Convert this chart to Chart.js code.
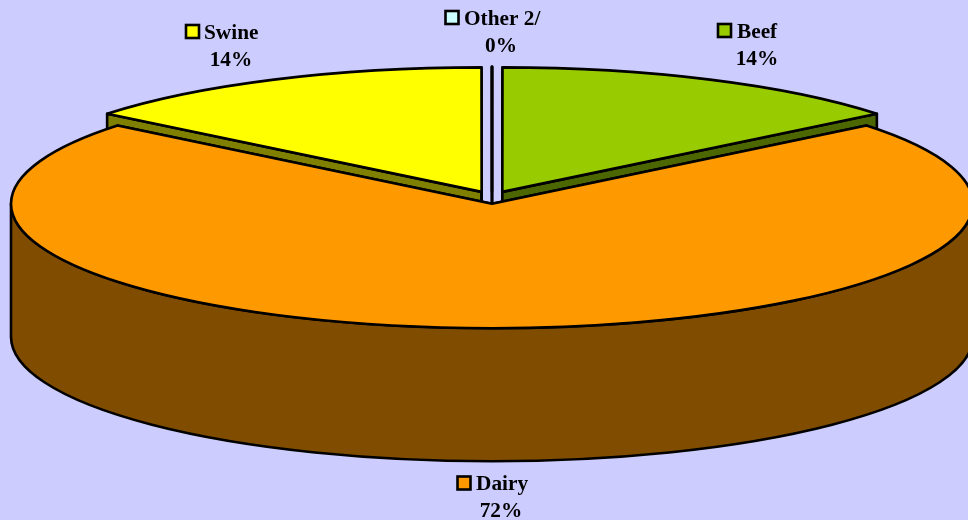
<!DOCTYPE html>
<html>
<head>
<meta charset="utf-8">
<title>Share by sector</title>
<script src="https://cdn.jsdelivr.net/npm/chart.js@4"></script>
<style>
    html, body { margin: 0; padding: 0; background: #CCCCFF; }
    canvas { display: block; }
</style>
</head>
<body>
<canvas id="pieChart" width="968" height="520"></canvas>
<script>
// slices run clockwise, Dairy is last so it gets drawn over the other side walls
var labels = ['Swine', 'Other 2/', 'Beef', 'Dairy'];
var shares = [14.2, 0.01, 14.2, 71.6];
var topColors = ['#FFFF00', '#CCFFFF', '#99CC00', '#FF9900'];
var wallColors = ['#808000', '#668080', '#4C6600', '#804C00'];

var SQUASH = 0.2588;
var DEPTH = 133;
var EXPLODE = 24;
var RADIUS = 481;
var LINE = 2.6;

// where the label of each slice goes: key box corner, text start, centre of the % line
var labelSpots = [
    { keyX: 185, keyY: 25, textX: 204, baseY: 39, pctX: 231 },
    { keyX: 444.5, keyY: 11, textX: 464, baseY: 25, pctX: 501 },
    { keyX: 717, keyY: 24, textX: 737, baseY: 38, pctX: 757 },
    { keyX: 456.5, keyY: 476.5, textX: 476, baseY: 490, pctX: 501 }
];

var total = shares.reduce(function(a, b) { return a + b; }, 0);
var startRotation = -(shares[0] + shares[1] / 2) / total * 360;

function flatPoint(cx, cy, r, angle) {
    return { x: cx + r * Math.cos(angle), y: cy + r * Math.sin(angle) * SQUASH };
}

function paintShape(ctx, fill) {
    ctx.fillStyle = fill;
    ctx.fill();
    ctx.lineWidth = LINE;
    ctx.lineJoin = 'round';
    ctx.strokeStyle = '#000';
    ctx.stroke();
}

function drawSideFace(ctx, cx, cy, r, angle, fill) {
    var p = flatPoint(cx, cy, r, angle);
    ctx.beginPath();
    ctx.moveTo(cx, cy);
    ctx.lineTo(p.x, p.y);
    ctx.lineTo(p.x, p.y + DEPTH);
    ctx.lineTo(cx, cy + DEPTH);
    ctx.closePath();
    paintShape(ctx, fill);
}

function drawRimWall(ctx, cx, cy, r, a0, a1, fill) {
    // only the front half of the rim faces the viewer
    var from = Math.max(a0, 0);
    var to = Math.min(a1, Math.PI);
    if (to <= from) return;
    ctx.beginPath();
    ctx.ellipse(cx, cy, r, r * SQUASH, 0, from, to);
    ctx.ellipse(cx, cy + DEPTH, r, r * SQUASH, 0, to, from, true);
    ctx.closePath();
    paintShape(ctx, fill);
}

var pie3d = {
    id: 'pie3d',
    beforeDatasetDraw: function(chart, args) {
        var ctx = chart.ctx;
        chart.getDatasetMeta(args.index).data.forEach(function(arc, i) {
            var mid = (arc.startAngle + arc.endAngle) / 2;
            var cx = arc.x + EXPLODE * Math.cos(mid);
            var cy = arc.y + EXPLODE * Math.sin(mid) * SQUASH;
            var r = arc.outerRadius;

            drawSideFace(ctx, cx, cy, r, arc.startAngle, wallColors[i]);
            drawSideFace(ctx, cx, cy, r, arc.endAngle, wallColors[i]);
            drawRimWall(ctx, cx, cy, r, arc.startAngle, arc.endAngle, wallColors[i]);

            // top face comes from the library's arc, just flattened
            ctx.save();
            ctx.translate(cx - arc.x, cy);
            ctx.scale(1, SQUASH);
            ctx.translate(0, -arc.y);
            arc.draw(ctx);
            ctx.restore();

            ctx.beginPath();
            ctx.moveTo(cx, cy);
            ctx.ellipse(cx, cy, r, r * SQUASH, 0, arc.startAngle, arc.endAngle);
            ctx.closePath();
            ctx.lineWidth = LINE;
            ctx.lineJoin = 'round';
            ctx.strokeStyle = '#000';
            ctx.stroke();
        });
        return false;
    },
    afterDraw: function(chart) {
        var ctx = chart.ctx;
        ctx.save();
        ctx.font = 'bold 21.3px "Liberation Serif"';
        ctx.textBaseline = 'alphabetic';
        ctx.lineJoin = 'miter';
        labels.forEach(function(label, i) {
            var spot = labelSpots[i];
            ctx.fillStyle = topColors[i];
            ctx.fillRect(spot.keyX + 1, spot.keyY, 13, 13);
            ctx.lineWidth = LINE;
            ctx.strokeStyle = '#000';
            ctx.strokeRect(spot.keyX + 1, spot.keyY, 13, 13);

            ctx.fillStyle = '#000';
            ctx.textAlign = 'left';
            ctx.fillText(label, spot.textX, spot.baseY);
            ctx.textAlign = 'center';
            ctx.fillText(Math.round(shares[i]) + '%', spot.pctX, spot.baseY + 27);
        });
        ctx.restore();
    }
};

new Chart(document.getElementById('pieChart'), {
    type: 'pie',
    data: {
        labels: labels,
        datasets: [{
            data: shares,
            backgroundColor: topColors,
            borderWidth: 0
        }]
    },
    options: {
        responsive: false,
        animation: false,
        rotation: startRotation,
        radius: RADIUS,
        layout: { padding: { left: 16, bottom: 125 } },
        plugins: {
            legend: { display: false },
            tooltip: { enabled: false }
        }
    },
    plugins: [pie3d]
});
</script>
</body>
</html>
